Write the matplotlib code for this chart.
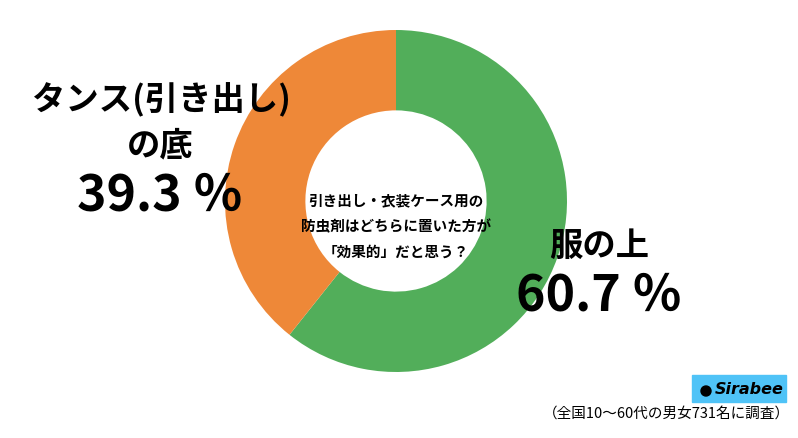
import matplotlib
matplotlib.use("Agg")
import matplotlib.pyplot as plt
from matplotlib.patches import Rectangle, Circle

plt.rcParams['font.family'] = ['Noto Sans CJK JP', 'DejaVu Sans']

# data
labels = ["服の上", "タンス(引き出し)\nの底"]
values = [60.7, 39.3]
colors = ["#52AE5A", "#EE8838"]
question = "引き出し・衣装ケース用の\n防虫剤はどちらに置いた方が\n「効果的」だと思う？"
note = "（全国10〜60代の男女731名に調査）"

W, H = 798, 438
fig = plt.figure(figsize=(W / 100, H / 100), dpi=100)
ax = fig.add_axes([0, 0, 1, 1])

# donut
cx, cy, r = 396, H - 201, 171
ax.pie(values, colors=colors, startangle=90, counterclock=False,
       center=(cx, cy), radius=r, frame=True,
       wedgeprops=dict(width=r * 0.47, edgecolor="white", linewidth=0))
ax.set_xlim(0, W)
ax.set_ylim(0, H)
ax.set_aspect("equal")
ax.axis("off")

# question in the middle
ax.text(cx, H - 226, question, ha="center", va="center", fontsize=10.5,
        fontweight="bold", linespacing=1.75)

# left label
ax.text(161, H - 100, "タンス(引き出し)", ha="center", va="center",
        fontsize=24, fontweight="bold")
ax.text(160, H - 146, "の底", ha="center", va="center",
        fontsize=24, fontweight="bold")
ax.text(160, H - 196, f"{values[1]} ％", ha="center", va="center",
        fontsize=36, fontweight="bold")

# right label
ax.text(599, H - 246, "服の上", ha="center", va="center",
        fontsize=24, fontweight="bold")
ax.text(599, H - 296, f"{values[0]} ％", ha="center", va="center",
        fontsize=36, fontweight="bold")

# logo
ax.add_patch(Rectangle((692, H - 402), 94, 27, color="#4FC3F7"))
ax.add_patch(Circle((706, H - 391), 5, color="black"))
ax.text(715, H - 389, "Sirabee", ha="left", va="center", fontsize=11.5,
        fontweight="bold", style="italic", family="DejaVu Sans")

# footnote
ax.text(790, H - 414, note, ha="right", va="center", fontsize=10.5)

fig.savefig("out.png", dpi=100)
